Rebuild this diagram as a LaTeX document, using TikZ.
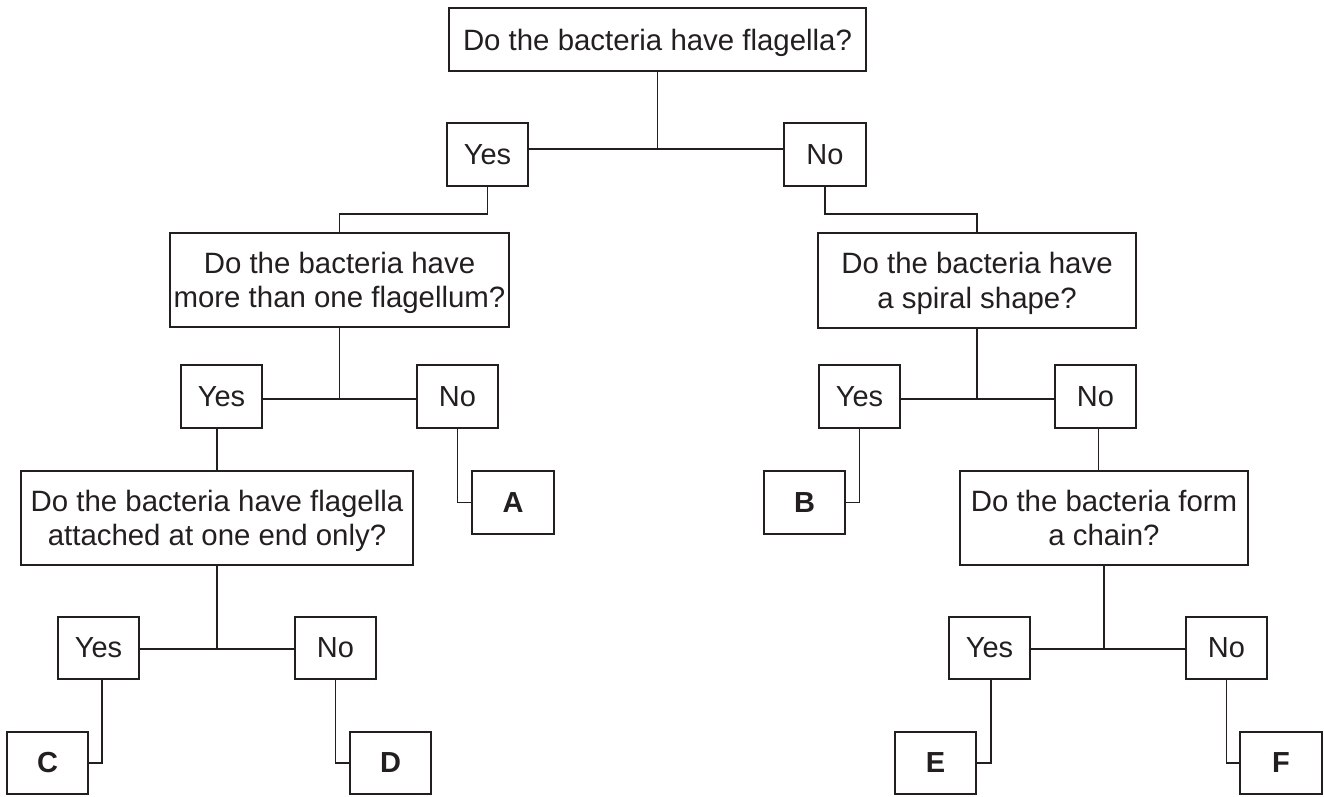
\documentclass[tikz,border=0pt]{standalone}
\usepackage{fontspec}
\setmainfont{Liberation Sans}
\definecolor{ink}{RGB}{35,31,32}
\newcommand\tstr{\rule{0pt}{1em}}
\newcommand\bstr{\rule[-0.284em]{0pt}{0pt}}
\begin{document}
\begin{tikzpicture}[x=1pt,y=-1pt,
  base/.style={draw=ink,line width=1.9pt,rectangle,inner sep=0pt,text=ink,align=center},
  qbox/.style={base,font=\fontsize{29.4pt}{34.6pt}\selectfont},
  box/.style={base,font=\fontsize{29pt}{34.7pt}\selectfont},
  ans/.style={base,font=\fontsize{29pt}{34.7pt}\selectfont\bfseries},
  conn/.style={draw=ink,line width=1.9pt}]
\useasboundingbox[fill=white] (0,0) rectangle (1324,796);
% questions
\node[qbox,minimum width=417pt,minimum height=63pt] (q1) at (657.5,39.5) {\tstr Do the bacteria have flagella?\bstr};
\node[qbox,minimum width=339pt,minimum height=94pt] (q2) at (339.5,280) {\tstr Do the bacteria have\\more than one flagellum?\bstr};
\node[qbox,minimum width=318pt,minimum height=95pt] (q3) at (977,280.5) {\tstr Do the bacteria have\\a spiral shape?\bstr};
\node[qbox,minimum width=392pt,minimum height=94pt] (q4) at (217,518) {\tstr Do the bacteria have flagella\\attached at one end only?\bstr};
\node[qbox,minimum width=288pt,minimum height=94pt] (q5) at (1104,518) {\tstr Do the bacteria form\\a chain?\bstr};
% yes / no
\node[box,minimum width=81pt,minimum height=63pt] (y1) at (487.5,154.5) {Yes};
\node[box,minimum width=82pt,minimum height=63pt] (n1) at (825,154.5) {No};
\node[box,minimum width=81pt,minimum height=63pt] (y2) at (221.5,396.5) {Yes};
\node[box,minimum width=81pt,minimum height=63pt] (n2) at (457.5,396.5) {No};
\node[box,minimum width=81pt,minimum height=63pt] (y4) at (859.5,396.5) {Yes};
\node[box,minimum width=81pt,minimum height=63pt] (n4) at (1095.5,396.5) {No};
\node[box,minimum width=81pt,minimum height=62pt] (y3) at (98.5,648) {Yes};
\node[box,minimum width=81pt,minimum height=62pt] (n3) at (335.5,648) {No};
\node[box,minimum width=81pt,minimum height=62pt] (y5) at (989.5,648) {Yes};
\node[box,minimum width=81pt,minimum height=62pt] (n5) at (1226.5,648) {No};
% answers
\node[ans,minimum width=82pt,minimum height=63pt] (A) at (513,502.5) {A};
\node[ans,minimum width=81pt,minimum height=63pt] (B) at (804.5,502.5) {B};
\node[ans,minimum width=81pt,minimum height=62pt] (C) at (47.5,763) {C};
\node[ans,minimum width=81pt,minimum height=62pt] (D) at (390.5,763) {D};
\node[ans,minimum width=81pt,minimum height=62pt] (E) at (935.5,763) {E};
\node[ans,minimum width=82pt,minimum height=62pt] (F) at (1281,763) {F};
% junctions
\coordinate (j1) at (657.5,149);
\coordinate (j2) at (339.5,399);
\coordinate (j3) at (977,399);
\coordinate (j4) at (217,649);
\coordinate (j5) at (1104,649);
% connectors
\draw[conn] (q1.south) -- (j1);
\draw[conn] (y1.east |- j1) -- (n1.west |- j1);
\draw[conn] (y1.south) -- ++(0,27) -| (q2.north);
\draw[conn] (n1.south) -- ++(0,27) -| (q3.north);
\draw[conn] (q2.south) -- (j2);
\draw[conn] (y2.east |- j2) -- (n2.west |- j2);
\draw[conn] (q3.south) -- (j3);
\draw[conn] (y4.east |- j3) -- (n4.west |- j3);
\draw[conn] (n2.south) |- (A.west);
\draw[conn] (y4.south) |- (B.east);
\draw[conn] (y2.south -| q4.north) -- (q4.north);
\draw[conn] ([xshift=3pt]n4.south) -- ([xshift=3pt]n4.south |- q5.north);
\draw[conn] (q4.south) -- (j4);
\draw[conn] (y3.east |- j4) -- (n3.west |- j4);
\draw[conn] (q5.south) -- (j5);
\draw[conn] (y5.east |- j5) -- (n5.west |- j5);
\draw[conn] ([xshift=3.5pt]y3.south) |- (C.east);
\draw[conn] (n3.south) |- (D.west);
\draw[conn] ([xshift=1.5pt]y5.south) |- (E.east);
\draw[conn] (n5.south) |- (F.west);
\end{tikzpicture}
\end{document}
